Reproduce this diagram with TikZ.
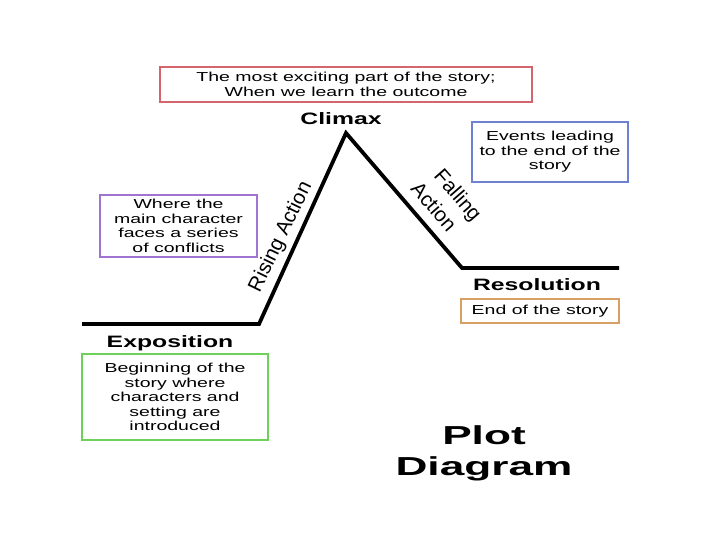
\documentclass[tikz,border=0pt]{standalone}
\usepackage{fontspec}
\setmainfont{Liberation Sans}
\newfontfamily\widefont{Liberation Sans}[FakeStretch=1.5]
\newfontfamily\titlefont{Liberation Sans}[FakeStretch=1.7]
\definecolor{cred}{HTML}{D4656C}
\definecolor{cblue}{HTML}{6E80D2}
\definecolor{cpurple}{HTML}{A274D2}
\definecolor{cgreen}{HTML}{6ED25A}
\definecolor{corange}{HTML}{D9A066}
\tikzset{
  infobox/.style={draw=#1, line width=2.8pt, align=center, inner sep=0pt,
    font=\widefont\fontsize{13}{14.5}\selectfont},
  stagelabel/.style={anchor=base, inner sep=0pt, font=\widefont\bfseries\fontsize{16.5}{18}\selectfont},
  slopelabel/.style={align=center, inner sep=0pt, font=\fontsize{20.5}{26}\selectfont},
  titlelabel/.style={anchor=base, inner sep=0pt, font=\titlefont\bfseries\fontsize{26}{31}\selectfont},
  plotline/.style={line width=3.8pt, line join=miter}
}
\begin{document}
\begin{tikzpicture}[x=1pt,y=-1pt]
\useasboundingbox[fill=white] (0,0) rectangle (720,540);
% plot line
\coordinate (s) at (82,324);
\coordinate (e) at (259,324);
\coordinate (c) at (346,133);
\coordinate (r) at (462,268);
\coordinate (f) at (619,268);
\draw[plotline] (s) -- (e) -- (c) -- (r) -- (f);
% boxes
\node[infobox=cred, minimum width=372pt, minimum height=35pt] (climaxbox) at (346,84.5)
  {The most exciting part of the story;\\When we learn the outcome};
\node[infobox=cblue, minimum width=156pt, minimum height=60pt] (fallbox) at (550,152)
  {Events leading\\to the end of the\\story};
\node[infobox=cpurple, minimum width=157pt, minimum height=62pt] (risebox) at (178.5,226)
  {Where the\\main character\\faces a series\\of conflicts};
\node[infobox=cgreen, minimum width=186pt, minimum height=86pt] (expbox) at (175,397)
  {Beginning of the\\story where\\characters and\\setting are\\introduced};
\node[infobox=corange, minimum width=158pt, minimum height=24pt] (resbox) at (540,311)
  {End of the story};
% stage labels
\node[stagelabel] (climax) at (341,125) {Climax};
\node[stagelabel] (exposition) at (170,347) {Exposition};
\node[stagelabel] (resolution) at (537,290) {Resolution};
% slope labels
\node[slopelabel, rotate=64] (rising) at (281,237) {Rising Action};
\node[slopelabel, rotate=-49] (falling) at (444,198) {\hspace*{14pt}Falling\\Action};
% title
\node[titlelabel] (plot) at (484,444) {Plot};
\node[titlelabel] (diagram) at (484,475) {Diagram};
\end{tikzpicture}
\end{document}
